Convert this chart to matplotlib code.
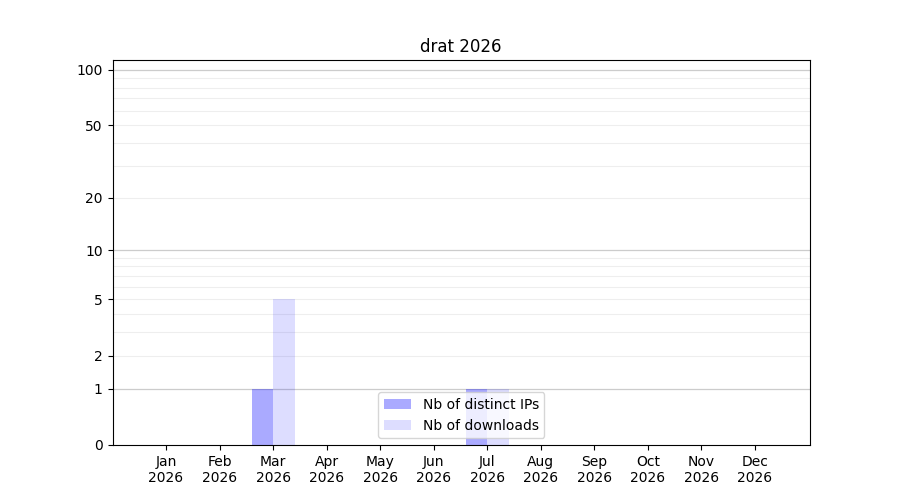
import numpy as np
import matplotlib
matplotlib.use("Agg")
import matplotlib.pyplot as plt
from matplotlib.ticker import FixedLocator, FixedFormatter

title = "drat 2026"
months = ["Jan", "Feb", "Mar", "Apr", "May", "Jun", "Jul", "Aug", "Sep", "Oct", "Nov", "Dec"]
year = "2026"
distinct_ips = [0, 0, 1, 0, 0, 0, 1, 0, 0, 0, 0, 0]
downloads = [0, 0, 5, 0, 0, 0, 1, 0, 0, 0, 0, 0]


def fwd(y):
    return np.log10(1 + np.maximum(y, 0))


def inv(y):
    return 10 ** y - 1


fig, ax = plt.subplots(figsize=(9, 5), dpi=100)
x = np.arange(len(months))
w = 0.4
ax.bar(x - w / 2, distinct_ips, width=w, color="blue", alpha=1 / 3, lw=0,
       label="Nb of distinct IPs", zorder=2)
ax.bar(x + w / 2, downloads, width=w, color="blue", alpha=2 / 15, lw=0,
       label="Nb of downloads", zorder=2)

ax.set_yscale("function", functions=(fwd, inv))
ax.set_ylim(0, 113)
ax.set_xlim(-1, 12.03)

major = [1, 10, 100]
minor = [2, 3, 4, 5, 6, 7, 8, 9, 20, 30, 40, 50, 60, 70, 80, 90]
ax.yaxis.set_major_locator(FixedLocator([0, 1, 2, 5, 10, 20, 50, 100]))
ax.yaxis.set_major_formatter(FixedFormatter(["0", "1", "2", "5", "10", "20", "50", "100"]))
ax.yaxis.set_minor_locator(FixedLocator([]))
for v in major:
    ax.axhline(v, color="#cccccc", lw=0.9, zorder=1)
for v in minor:
    ax.axhline(v, color="#eeeeee", lw=0.8, zorder=1)

ax.set_xticks(x)
ax.set_xticklabels([f"{m}\n{year}" for m in months])
ax.set_title(title)
ax.legend(loc="lower center")

plt.savefig("out.png", dpi=100)
